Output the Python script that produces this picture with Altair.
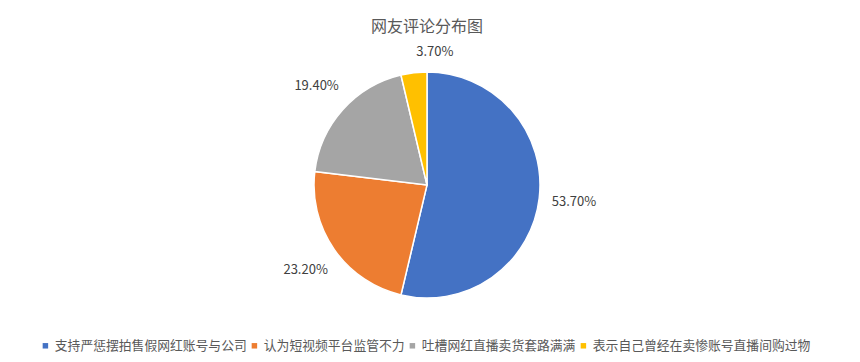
import altair as alt
import pandas as pd

categories = ["支持严惩摆拍售假网红账号与公司", "认为短视频平台监管不力", "吐槽网红直播卖货套路满满", "表示自己曾经在卖惨账号直播间购过物"]
values = [53.7, 23.2, 19.4, 3.7]
labels = ["53.70%", "23.20%", "19.40%", "3.70%"]
colors = ["#4472C4", "#ED7D31", "#A5A5A5", "#FFC000"]

df = pd.DataFrame({"cat": categories, "val": values, "label": labels, "ord": list(range(len(categories)))})

FONT = "Noto Sans CJK SC"

base = alt.Chart(df).encode(
    theta=alt.Theta("val:Q", stack=True),
    order=alt.Order("ord:Q"),
)

pie = base.mark_arc(outerRadius=113, stroke="white", strokeWidth=1.5).encode(
    color=alt.Color(
        "cat:N",
        sort=categories,
        scale=alt.Scale(domain=categories, range=colors),
        legend=alt.Legend(
            title=None, orient="none", legendX=31, legendY=301, direction="horizontal",
            symbolType="square", symbolSize=30, symbolStrokeWidth=0,
            labelFont=FONT, labelFontSize=12.8,
            labelColor="#595959", labelLimit=400, columnPadding=1, labelOffset=3,
        ),
    )
)

text_style = dict(font=FONT, fontSize=13, color="#404040")

text_big = base.mark_text(radius=148, **text_style).encode(text="label:N").transform_filter(
    alt.datum.val >= 10
)
text_small = base.mark_text(radius=136, dx=-8, dy=2, **text_style).encode(text="label:N").transform_filter(
    alt.datum.val < 10
)

chart = (pie + text_big + text_small).properties(
    width=838, height=294,
    autosize=alt.AutoSizeParams(type="none"),
    padding={"left": 0, "right": 0, "top": 30, "bottom": 30},
    title=alt.Title("网友评论分布图", font=FONT, fontSize=16, fontWeight="normal", color="#595959", offset=3),
).configure_view(stroke=None)

chart.save("out.html", embed_options={"renderer": "svg", "actions": False})
